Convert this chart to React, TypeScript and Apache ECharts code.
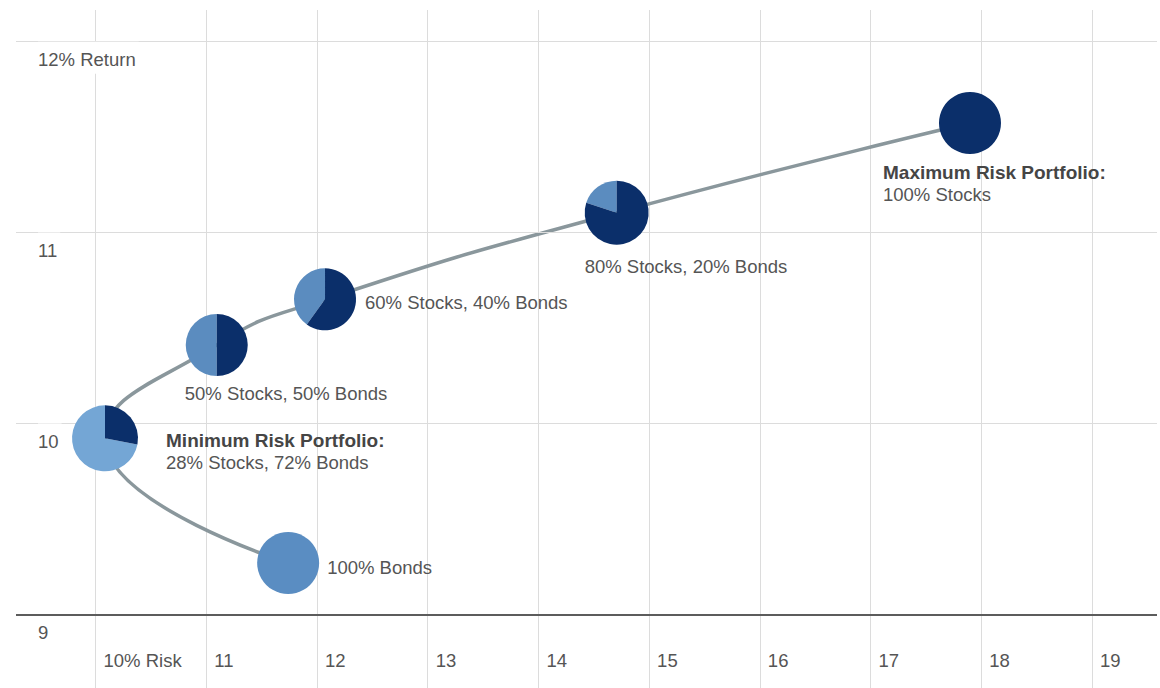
import React, { useEffect, useRef } from "react";
import * as echarts from "echarts";

// ---- data ----
const riskPct = [11.74, 10.086, 11.095, 12.073, 14.707, 17.898];
const returnPct = [9.269, 9.922, 10.411, 10.65, 11.104, 11.574];
const stockShare = [0, 28, 50, 60, 80, 100];
const titles = ["", "Minimum Risk Portfolio:", "", "", "", "Maximum Risk Portfolio:"];
const captions = [
  "100% Bonds",
  "28% Stocks, 72% Bonds",
  "50% Stocks, 50% Bonds",
  "60% Stocks, 40% Bonds",
  "80% Stocks, 20% Bonds",
  "100% Stocks",
];
const xTickValues = [10, 11, 12, 13, 14, 15, 16, 17, 18, 19];
const xTickLabels = ["10% Risk", "11", "12", "13", "14", "15", "16", "17", "18", "19"];
const yTickValues = [9, 10, 11, 12];
const yTickLabels = ["9", "10", "11", "12% Return"];
const xRange = [9.282, 19.587];
const yRange = [8.614, 12.166];

// ---- presentation (positions relative to each point, sizes, colours) ----
const labelOffsets = [
  { dx: 39, dy: 5 },
  { dx: 61, dy: 2 },
  { dx: -32, dy: 49 },
  { dx: 40, dy: 3 },
  { dx: -32, dy: 54 },
  { dx: -87, dy: 49 },
];
const pieRadius = [31, 33, 31, 31, 32, 31];
const bondColors = ["#5a8dc2", "#74a6d5", "#5b8cbf", "#5b8cbf", "#5b8cbf", "#5b8cbf"];
const stockColor = "#0b2f6a";
const FONT = "'Liberation Sans', Arial, Helvetica, sans-serif";
const TEXT_COLOR = "#555";

export default function App() {
  const ref = useRef<HTMLDivElement>(null);

  useEffect(() => {
    document.body.style.margin = "0";
    if (!ref.current) return;
    const chart = echarts.init(ref.current, undefined, { renderer: "svg" });

    const points = riskPct.map((r, i) => [r, returnPct[i], stockShare[i]]);

    const option: any = {
      animation: false,
      backgroundColor: "#fff",
      grid: { left: 16, right: 3, top: 10, bottom: 0, containLabel: false },
      xAxis: {
        type: "value",
        min: xRange[0],
        max: xRange[1],
        axisLine: { show: false },
        axisTick: { show: false, customValues: xTickValues },
        splitLine: { show: true, lineStyle: { color: "#dcdcdc", width: 1 } },
        axisLabel: {
          customValues: xTickValues,
          inside: true,
          margin: 28,
          align: "left",
          verticalAlign: "middle",
          padding: [0, 0, 0, 8],
          color: TEXT_COLOR,
          fontSize: 18.5,
          fontFamily: FONT,
          formatter: (v: number) => xTickLabels[xTickValues.indexOf(Math.round(v))] ?? "",
        },
      },
      yAxis: {
        type: "value",
        min: yRange[0],
        max: yRange[1],
        z: 3,
        axisLine: { show: false },
        axisTick: { show: false, customValues: yTickValues },
        splitLine: { show: true, lineStyle: { color: "#dcdcdc", width: 1 } },
        axisLabel: {
          customValues: yTickValues,
          inside: true,
          margin: 22,
          align: "left",
          verticalAlign: "top",
          padding: [8, 3, 4, 0],
          lineHeight: 20,
          backgroundColor: "#fff",
          color: TEXT_COLOR,
          fontSize: 18.5,
          fontFamily: FONT,
          formatter: (v: number) => yTickLabels[yTickValues.indexOf(Math.round(v))] ?? "",
        },
      },
      series: [
        {
          type: "line",
          data: points.map((p) => [p[0], p[1]]),
          smooth: 0.5,
          symbol: "none",
          z: 2,
          lineStyle: { color: "#8a979c", width: 3.5 },
          markLine: {
            silent: true,
            symbol: "none",
            label: { show: false },
            lineStyle: { color: "#5c5c5c", width: 2, type: "solid" },
            data: [{ yAxis: 9 }],
          },
        },
        {
          type: "custom",
          z: 5,
          clip: false,
          data: points,
          encode: { x: 0, y: 1 },
          renderItem: (params: any, api: any) => {
            const i = params.dataIndex;
            const c = api.coord([api.value(0), api.value(1)]);
            const cx = c[0];
            const cy = c[1];
            const share = api.value(2) / 100;
            const r = pieRadius[i];
            const start = -Math.PI / 2;
            const split = start + share * Math.PI * 2;
            const children: any[] = [];
            if (share <= 0) {
              children.push({ type: "circle", shape: { cx, cy, r }, style: { fill: bondColors[i] } });
            } else if (share >= 1) {
              children.push({ type: "circle", shape: { cx, cy, r }, style: { fill: stockColor } });
            } else {
              children.push({
                type: "sector",
                shape: { cx, cy, r, r0: 0, startAngle: split, endAngle: start + Math.PI * 2, clockwise: true },
                style: { fill: bondColors[i] },
              });
              children.push({
                type: "sector",
                shape: { cx, cy, r, r0: 0, startAngle: start, endAngle: split, clockwise: true },
                style: { fill: stockColor },
              });
            }
            const off = labelOffsets[i];
            let y = cy + off.dy;
            if (titles[i]) {
              children.push({
                type: "text",
                x: cx + off.dx,
                y,
                style: {
                  text: titles[i],
                  fill: "#454545",
                  fontSize: 19,
                  fontWeight: "bold",
                  fontFamily: FONT,
                  align: "left",
                  verticalAlign: "middle",
                },
              });
              y += 22.5;
            }
            children.push({
              type: "text",
              x: cx + off.dx,
              y,
              style: {
                text: captions[i],
                fill: TEXT_COLOR,
                fontSize: 18.5,
                fontFamily: FONT,
                align: "left",
                verticalAlign: "middle",
              },
            });
            return { type: "group", children };
          },
        },
      ],
    };

    chart.setOption(option);
    return () => chart.dispose();
  }, []);

  return (
    <div
      ref={ref}
      style={{ position: "absolute", left: 0, top: 0, width: 1160, height: 688 }}
    />
  );
}
